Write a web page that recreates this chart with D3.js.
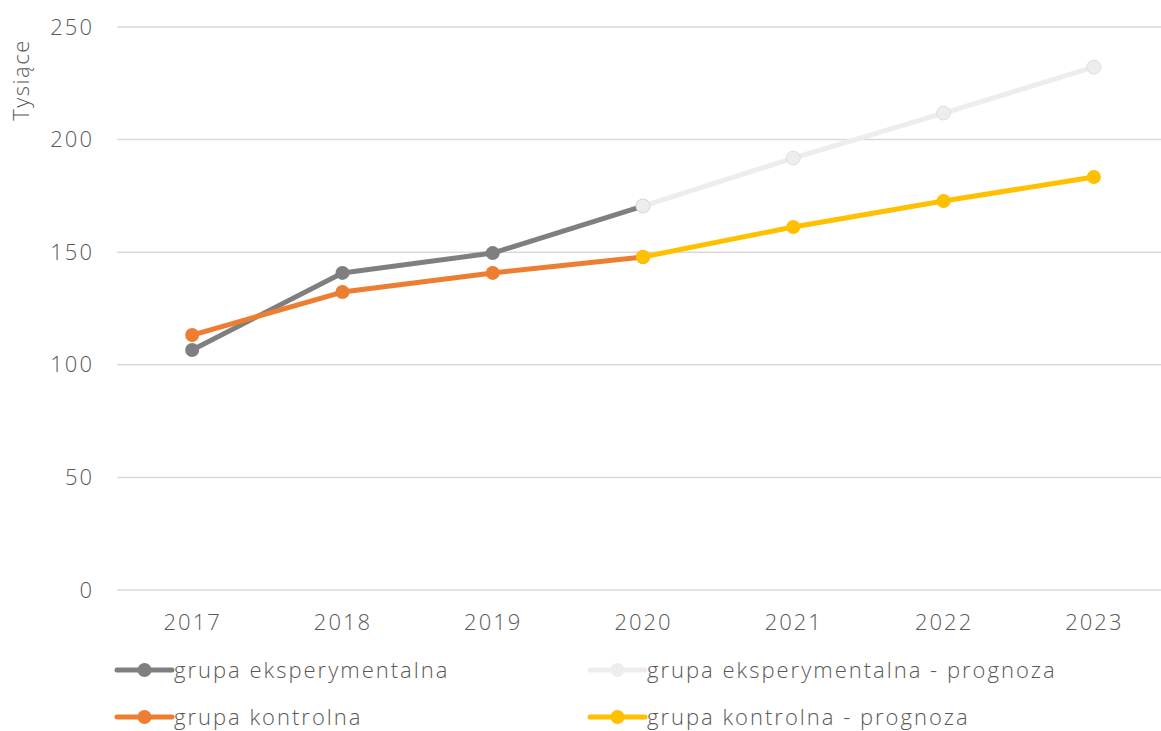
<!DOCTYPE html>
<html>
<head>
<meta charset="utf-8">
<script src="https://cdn.jsdelivr.net/npm/d3@7"></script>
<style>
  html, body { margin: 0; padding: 0; background: #fff; }
  svg text { font-family: "Open Sans", "Lato", sans-serif; font-weight: 300; fill: #595959; letter-spacing: 2px; }
</style>
</head>
<body>
<svg id="chart" width="1161" height="731"></svg>
<script>
// Years on the horizontal axis
const years = ["2017", "2018", "2019", "2020", "2021", "2022", "2023"];

// Values in thousands
const experimental = [106.6, 140.8, 149.6, 170.5, null, null, null];
const experimentalForecast = [null, null, null, 170.5, 191.8, 211.8, 232.2];
const control = [113.2, 132.3, 140.8, 147.9, null, null, null];
const controlForecast = [null, null, null, 147.9, 161.2, 172.7, 183.4];

const yTicks = [0, 50, 100, 150, 200, 250];

const series = [
  { name: "grupa eksperymentalna", values: experimental, color: "#7f7f7f", stroke: null },
  { name: "grupa kontrolna", values: control, color: "#ed7d31", stroke: null },
  { name: "grupa eksperymentalna - prognoza", values: experimentalForecast, color: "#ededed", stroke: "#d9d9d9" },
  { name: "grupa kontrolna - prognoza", values: controlForecast, color: "#ffc000", stroke: null }
];

const svg = d3.select("#chart");
const plot = { left: 117, right: 1169, top: 27, bottom: 590 };

const x = d3.scalePoint().domain(years).range([plot.left, plot.right]).padding(0.5);
const y = d3.scaleLinear().domain([0, 250]).range([plot.bottom, plot.top]);

// Horizontal gridlines
svg.append("g").selectAll("line").data(yTicks).join("line")
  .attr("x1", plot.left).attr("x2", plot.right)
  .attr("y1", d => y(d)).attr("y2", d => y(d))
  .attr("stroke", "#d9d9d9").attr("stroke-width", 1.5);

// Y axis labels
const yAxis = svg.append("g")
  .attr("transform", `translate(${plot.left},0)`)
  .call(d3.axisLeft(y).tickValues(yTicks).tickSize(0).tickPadding(23));
yAxis.select(".domain").remove();
yAxis.selectAll("text").attr("font-size", 22).attr("fill", "#595959")
  .style("font-family", "'Open Sans', sans-serif").style("font-weight", 300);

// X axis labels
const xAxis = svg.append("g")
  .attr("transform", `translate(0,${plot.bottom})`)
  .call(d3.axisBottom(x).tickSize(0).tickPadding(24));
xAxis.select(".domain").remove();
xAxis.selectAll("text").attr("font-size", 22).attr("fill", "#595959")
  .style("font-family", "'Open Sans', sans-serif").style("font-weight", 300);

// Unit title
svg.append("text")
  .attr("transform", "translate(29,80) rotate(-90)")
  .attr("text-anchor", "middle")
  .attr("font-size", 22)
  .style("letter-spacing", "1.5px")
  .text("Tysiące");

const line = d3.line()
  .defined(d => d.v !== null)
  .x(d => x(d.year))
  .y(d => y(d.v));

// Lines and markers, in drawing order
series.forEach(s => {
  const pts = s.values.map((v, i) => ({ year: years[i], v }));
  svg.append("path")
    .datum(pts)
    .attr("fill", "none")
    .attr("stroke", s.color)
    .attr("stroke-width", 5)
    .attr("stroke-linejoin", "round")
    .attr("d", line);
  svg.append("g").selectAll("circle")
    .data(pts.filter(d => d.v !== null))
    .join("circle")
    .attr("cx", d => x(d.year))
    .attr("cy", d => y(d.v))
    .attr("r", 7)
    .attr("fill", s.color)
    .attr("stroke", s.stroke || "none")
    .attr("stroke-width", s.stroke ? 0.8 : 0);
});

// Legend
const legendPos = [
  { x: 117, y: 670 }, { x: 117, y: 717 }, { x: 590, y: 670 }, { x: 590, y: 717 }
];
series.forEach((s, i) => {
  const p = legendPos[i];
  const g = svg.append("g").attr("transform", `translate(${p.x},${p.y})`);
  g.append("line").attr("x1", 0).attr("x2", 55).attr("y1", 0).attr("y2", 0)
    .attr("stroke", s.color).attr("stroke-width", 5).attr("stroke-linecap", "round");
  g.append("circle").attr("cx", 27.5).attr("cy", 0).attr("r", 7).attr("fill", s.color);
  g.append("text").attr("x", 57).attr("y", 0).attr("dy", "0.35em")
    .attr("font-size", 22).text(s.name);
});
</script>
</body>
</html>
